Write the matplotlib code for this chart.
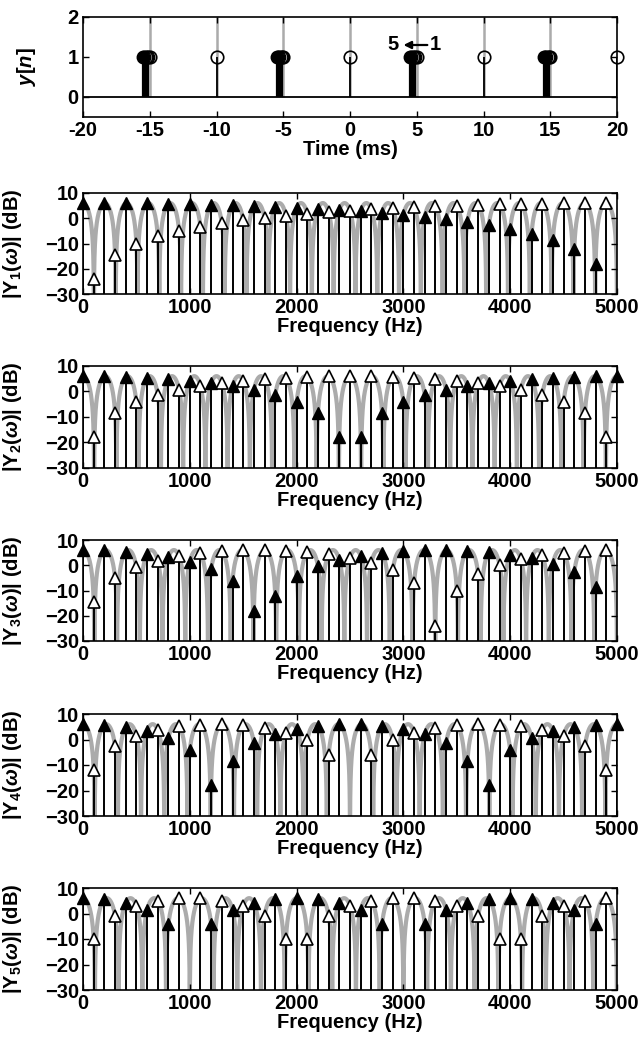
import numpy as np
import matplotlib
matplotlib.use("Agg")
import matplotlib.pyplot as plt

plt.rcParams['font.family'] = ['Liberation Sans', 'DejaVu Sans']
plt.rcParams['font.weight'] = 'bold'
plt.rcParams['axes.labelweight'] = 'bold'
plt.rcParams['mathtext.fontset'] = 'custom'
plt.rcParams['mathtext.rm'] = 'Liberation Sans:bold'
plt.rcParams['mathtext.it'] = 'Liberation Sans:italic:bold'
plt.rcParams['mathtext.bf'] = 'Liberation Sans:bold'

# ---- signal description -------------------------------------------------
FS_HZ = 10000                       # sampling rate
PERIOD_MS = 10.0                    # pulse-pair period
HALF_PERIOD_MS = 5.0                # nominal spacing of the second pulse
REGULAR_PULSES_MS = [-10, 0, 10, 20]
JITTERED_PULSES_MS = [-15, -5, 5, 15]
SHIFTS_SAMPLES = [1, 2, 3, 4, 5]    # early shift of the second pulse, one per spectrum
PULSE_HEIGHT = 1.0

TIME_TICKS = [-20, -15, -10, -5, 0, 5, 10, 15, 20]
GUIDE_TIMES_MS = [-15, -10, -5, 0, 5, 10, 15]
FREQ_TICKS = [0, 1000, 2000, 3000, 4000, 5000]
DB_TICKS = [-30, -20, -10, 0, 10]
DB_FLOOR = -30
DB_TOP = 10

GRAY = '#ababab'
FS_TXT = 14.5

period_len = int(round(PERIOD_MS * FS_HZ / 1000))
half_len = int(round(HALF_PERIOD_MS * FS_HZ / 1000))


def one_period(shift):
    """One period of y[n]: a pulse at n=0 and one arriving `shift` samples early."""
    x = np.zeros(period_len)
    x[0] = PULSE_HEIGHT
    x[half_len - shift] = PULSE_HEIGHT
    return x


def to_db(mag):
    return 20 * np.log10(np.maximum(mag, 1e-5))


fig = plt.figure(figsize=(6.39, 10.45), dpi=100)
W, H = 639.0, 1045.0
left, right = 83 / W, 617 / W


def add_axes(top_px, bottom_px):
    return fig.add_axes([left, 1 - bottom_px / H, right - left, (bottom_px - top_px) / H])


def style(ax):
    ax.tick_params(direction='in', top=True, right=True, length=4, width=1,
                   labelsize=FS_TXT, pad=3)
    for s in ax.spines.values():
        s.set_linewidth(1.2)


# ---- time-domain panel --------------------------------------------------
ax0 = add_axes(17, 117)
ax0.set_xlim(-20, 20)
ax0.set_ylim(-0.5, 2)
ax0.vlines(GUIDE_TIMES_MS, 0, 2, color=GRAY, lw=1.8, zorder=1)
ax0.axhline(0, color='k', lw=1.3, zorder=2)
ax0.vlines(REGULAR_PULSES_MS, 0, PULSE_HEIGHT, color='k', lw=1.3, zorder=3)
for t in JITTERED_PULSES_MS:
    shifted = [t - s * 1000.0 / FS_HZ for s in SHIFTS_SAMPLES]
    ax0.vlines(shifted, 0, PULSE_HEIGHT, color='k', lw=1.6, zorder=3)
    # largest shift drawn solid, the smaller ones as outlines
    ax0.plot(shifted[-1], PULSE_HEIGHT, 'o', ms=9, mfc='k', mec='k', zorder=4)
    ax0.plot(shifted[:-1], [PULSE_HEIGHT] * (len(shifted) - 1), 'o', ms=9,
             mfc='none', mec='k', mew=1.0, zorder=4)
ax0.plot(REGULAR_PULSES_MS + JITTERED_PULSES_MS,
         [PULSE_HEIGHT] * (len(REGULAR_PULSES_MS) + len(JITTERED_PULSES_MS)),
         'o', ms=9, mfc='none', mec='k', mew=1.2, zorder=5, clip_on=False)
ax0.text(3.2, 1.3, '5', fontsize=FS_TXT, ha='center', va='center')
ax0.text(6.4, 1.3, '1', fontsize=FS_TXT, ha='center', va='center')
ax0.annotate('', xy=(3.8, 1.3), xytext=(6.0, 1.3),
             arrowprops=dict(arrowstyle='-|>', color='k', lw=1.6, mutation_scale=11))
ax0.set_xticks(TIME_TICKS)
ax0.set_xticklabels([str(t) for t in TIME_TICKS])
ax0.set_yticks([0, 1, 2])
ax0.set_xlabel('Time (ms)', fontsize=FS_TXT, labelpad=0)
ax0.set_ylabel(r'$y$[$n$]', fontsize=FS_TXT)
ax0.yaxis.set_label_coords(-0.085, 0.5)
style(ax0)

# ---- spectra of the jittered pulse trains --------------------------------
panel_px = [(193, 294), (366, 468), (540, 641), (714, 816), (888, 990)]
n_dense = 20000
for i, (shift, (tp, bp)) in enumerate(zip(SHIFTS_SAMPLES, panel_px)):
    ax = add_axes(tp, bp)
    x = one_period(shift)
    harm_db = to_db(np.abs(np.fft.rfft(x)))
    harm_f = np.fft.rfftfreq(period_len, 1.0 / FS_HZ)
    dense_db = to_db(np.abs(np.fft.rfft(x, n=n_dense)))
    dense_f = np.fft.rfftfreq(n_dense, 1.0 / FS_HZ)

    ax.plot(dense_f, dense_db, color=GRAY, lw=3.0, zorder=1, solid_capstyle='butt')

    vis = harm_db > DB_FLOOR
    ax.vlines(harm_f[vis], DB_FLOOR, harm_db[vis], color='k', lw=1.4, zorder=3)
    k = np.arange(len(harm_f))
    even = vis & (k % 2 == 0)
    odd = vis & (k % 2 == 1)
    ax.plot(harm_f[even], harm_db[even], '^', ms=8, mfc='k', mec='k', zorder=4, clip_on=False)
    ax.plot(harm_f[odd], harm_db[odd], '^', ms=8, mfc='white', mec='k', mew=1.2,
            zorder=4, clip_on=False)

    ax.set_xlim(0, 5000)
    ax.set_ylim(DB_FLOOR, DB_TOP)
    ax.set_xticks(FREQ_TICKS)
    ax.set_yticks(DB_TICKS)
    ax.set_xlabel('Frequency (Hz)', fontsize=FS_TXT, labelpad=0)
    ax.set_ylabel(r'|Y$_{%d}$($\omega$)| (dB)' % (i + 1), fontsize=FS_TXT)
    ax.yaxis.set_label_coords(-0.11, 0.5)
    style(ax)

fig.savefig('out.png', dpi=100)
